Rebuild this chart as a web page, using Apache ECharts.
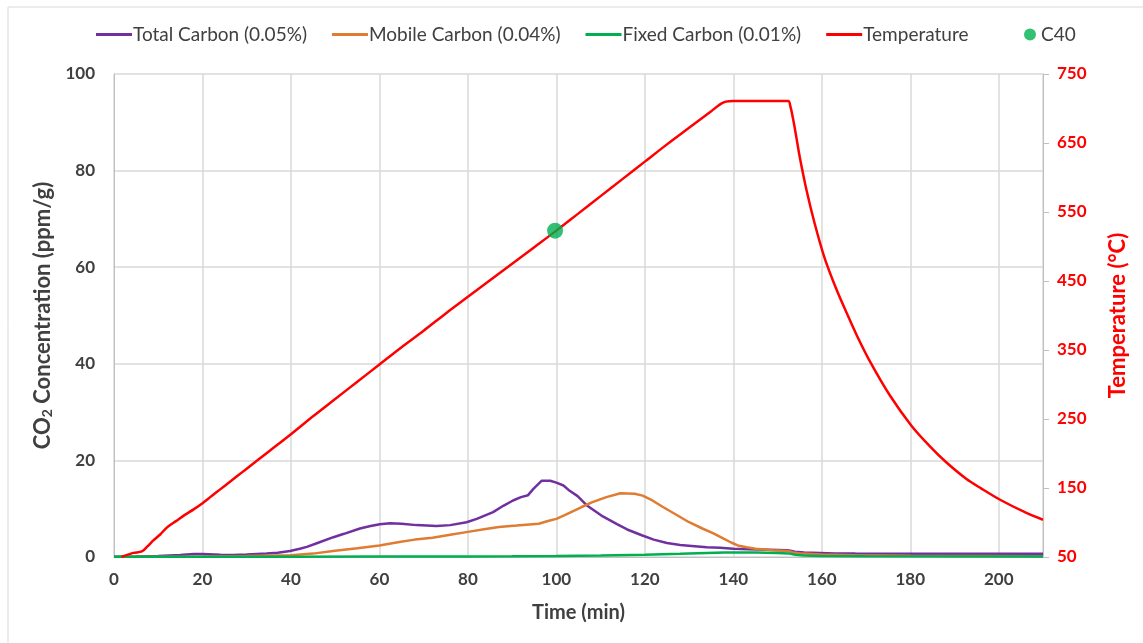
<!DOCTYPE html>
<html>
<head>
<meta charset="utf-8">
<script src="https://cdn.jsdelivr.net/npm/echarts@6/dist/echarts.min.js"></script>
<style>
  html, body { margin: 0; padding: 0; background: #ffffff; }
  #chart { width: 1143px; height: 643px; }
</style>
</head>
<body>
<div id="chart"></div>
<script>
// Time (min) / CO2 concentration (ppm/g) pairs for each carbon fraction
const totalCarbon = [
  [0,0.05],[5,0.1],[10,0.2],[15,0.4],[18,0.6],[20,0.6],[24,0.45],[27,0.4],[30,0.5],[34.5,0.7],
  [37,0.9],[39.8,1.25],[42,1.7],[43.6,2.1],[46,2.9],[49.6,4.1],[52,4.8],[55.6,5.9],[58,6.4],[60.1,6.8],
  [62.4,7.0],[65,6.9],[68.4,6.6],[72.9,6.4],[76,6.6],[79.7,7.2],[82,7.9],[85.7,9.3],[88,10.6],[90.2,11.7],
  [92,12.4],[93.6,12.8],[94.8,14.1],[96.7,15.8],[98.6,15.8],[100,15.4],[101.6,14.8],[103,13.7],[104.8,12.6],[107,10.6],
  [110.5,8.4],[113.7,6.8],[116,5.7],[119.3,4.5],[122,3.6],[125,2.9],[128,2.5],[130.6,2.3],[134,2.0],[137,1.9],
  [140,1.7],[143.5,1.6],[148,1.5],[152.3,1.4],[153.9,1.1],[156,0.95],[159.6,0.85],[163,0.75],[167.6,0.7],[175,0.65],
  [185,0.65],[195,0.66],[210,0.66]
];
const mobileCarbon = [
  [0,0],[10,0.05],[20,0.1],[30,0.2],[40,0.35],[45,0.7],[49.5,1.25],[55,1.8],[60,2.4],[64.5,3.1],
  [68,3.6],[72,4.0],[76,4.6],[80,5.2],[84,5.8],[87,6.2],[91,6.5],[94.6,6.8],[96,6.9],[98.3,7.5],
  [100,7.9],[102,8.7],[105.6,10.3],[108,11.3],[111.3,12.4],[114.5,13.2],[117.7,13.1],[119.5,12.7],[121.7,11.7],[124,10.4],
  [127.4,8.6],[130,7.2],[133,5.9],[135.5,4.9],[137.8,3.8],[139.5,3.0],[141,2.4],[143,2.0],[145,1.7],[149,1.4],
  [152.3,1.25],[153.5,0.95],[155.5,0.7],[160,0.5],[167.6,0.35],[180,0.25],[195,0.2],[210,0.15]
];
const fixedCarbon = [
  [0,0.05],[40,0.05],[60,0.08],[80,0.12],[90,0.15],[100,0.22],[110,0.32],[120,0.48],[128,0.65],[134,0.85],
  [138,0.95],[145,0.95],[150,0.85],[152.5,0.75],[154,0.45],[156,0.3],[160,0.2],[170,0.15],[210,0.1]
];
// Time (min) / furnace temperature (°C)
const temperature = [
  [1.7,50],[3,53],[4.4,56],[6.3,58],[7.5,65],[8.9,74],[10.5,83],[12,93],[14,102],[16,111],
  [18,119],[20,128],[22,138],[24,148],[26,158],[28,168],[30,178],[35,203],[40,228],[45,254],
  [50,279],[55,304],[60,329],[65,354],[70,378],[75,403],[80,427],[85,451],[90,475],[95,499],
  [100,523],[105,548],[110,573],[115,598],[120,623],[125,648],[130,672],[135,696],[137,706],[138.3,710],
  [140,711],[145,711],[152.4,711],[152.9,703],[153.5,685],[154.2,660],[155,630],[156.6,580],[158.4,533],[160.6,484],
  [163.3,438],[165.6,404],[168,370],[171,332],[175.4,284],[180.3,240],[184.5,210],[188,188],[192.7,163],[196,149.5],
  [200.3,133],[205.9,115],[210,104]
];
// Marked C40 point on the temperature ramp
const c40 = [[99.7, 523]];

const seriesNames = ['Total Carbon (0.05%)', 'Mobile Carbon (0.04%)', 'Fixed Carbon (0.01%)', 'Temperature', 'C40'];

const FONT = 'Lato, "Open Sans", sans-serif';
const DARK = '#404040';
const GRID = '#D9D9D9';
const AXIS = '#BFBFBF';

const chart = echarts.init(document.getElementById('chart'), null, { renderer: 'canvas' });

chart.setOption({
  animation: false,
  backgroundColor: '#ffffff',
  graphic: [{
    type: 'rect',
    shape: { x: 8, y: 7, width: 1300, height: 800 },
    style: { fill: 'none', stroke: '#D9D9D9', lineWidth: 1 },
    silent: true, z: -10
  }],
  legend: [{
    data: seriesNames.slice(0, 4),
    left: 91, top: 20,
    icon: 'rect', itemWidth: 36, itemHeight: 3, itemGap: 25,
    textStyle: { fontFamily: FONT, fontSize: 19, color: DARK, padding: [0, 0, 0, -4] }
  }, {
    data: ['C40'],
    left: 1019, top: 20,
    icon: 'circle', itemWidth: 12, itemHeight: 12,
    textStyle: { fontFamily: FONT, fontSize: 19, color: DARK }
  }],
  grid: { left: 114, right: 100, top: 74, bottom: 86, containLabel: false, outerBoundsMode: 'none' },
  xAxis: {
    type: 'value', min: 0, max: 210, interval: 20,
    name: 'Time (min)', nameLocation: 'middle', nameGap: 46,
    nameTextStyle: { fontFamily: FONT, fontSize: 20, fontWeight: 'bold', color: DARK },
    axisLine: { show: true, lineStyle: { color: AXIS, width: 1 } },
    axisTick: { show: false },
    axisLabel: { fontFamily: FONT, fontSize: 17, fontWeight: 'bold', color: DARK, margin: 14, showMaxLabel: false },
    splitLine: { show: true, lineStyle: { color: GRID, width: 1.5 } }
  },
  yAxis: [{
    type: 'value', min: 0, max: 100, interval: 20, position: 'left',
    name: 'CO{sub|2} Concentration (ppm/g)', nameLocation: 'middle', nameGap: 56, nameRotate: 90,
    nameTextStyle: {
      fontFamily: FONT, fontSize: 22, fontWeight: 'bold', color: DARK,
      rich: { sub: { fontFamily: FONT, fontSize: 14, fontWeight: 'bold', color: DARK, verticalAlign: 'bottom', padding: [9, 0, 0, 0] } }
    },
    axisLine: { show: true, lineStyle: { color: AXIS, width: 1 } },
    axisTick: { show: false },
    axisLabel: { fontFamily: FONT, fontSize: 17, fontWeight: 'bold', color: DARK, margin: 19 },
    splitLine: { show: true, lineStyle: { color: GRID, width: 1.5 } }
  }, {
    type: 'value', min: 50, max: 750, interval: 100, position: 'right',
    name: 'Temperature (°C)', nameLocation: 'middle', nameGap: 64, nameRotate: 90,
    nameTextStyle: { fontFamily: FONT, fontSize: 22, fontWeight: 'bold', color: '#FF0000' },
    axisLine: { show: true, lineStyle: { color: AXIS, width: 1 } },
    axisTick: { show: true, inside: false, length: 6, lineStyle: { color: AXIS } },
    axisLabel: { fontFamily: FONT, fontSize: 17, fontWeight: 'bold', color: '#FF0000', margin: 14 },
    splitLine: { show: false }
  }],
  series: [{
    name: seriesNames[0], type: 'line', data: totalCarbon, yAxisIndex: 0,
    symbol: 'none', lineStyle: { color: '#7030A0', width: 2.5 }, itemStyle: { color: '#7030A0' }, z: 3
  }, {
    name: seriesNames[1], type: 'line', data: mobileCarbon, yAxisIndex: 0,
    symbol: 'none', lineStyle: { color: '#E07B32', width: 2.5 }, itemStyle: { color: '#E07B32' }, z: 3
  }, {
    name: seriesNames[2], type: 'line', data: fixedCarbon, yAxisIndex: 0,
    symbol: 'none', lineStyle: { color: '#00B050', width: 2.5 }, itemStyle: { color: '#00B050' }, z: 3
  }, {
    name: seriesNames[3], type: 'line', data: temperature, yAxisIndex: 1,
    symbol: 'none', smooth: 0.3,
    lineStyle: { color: '#FF0000', width: 2.5 }, itemStyle: { color: '#FF0000' }, z: 4
  }, {
    name: seriesNames[4], type: 'scatter', data: c40, yAxisIndex: 1,
    symbol: 'circle', symbolSize: 16, itemStyle: { color: '#00B050' }, z: 5
  }]
});
</script>
</body>
</html>
